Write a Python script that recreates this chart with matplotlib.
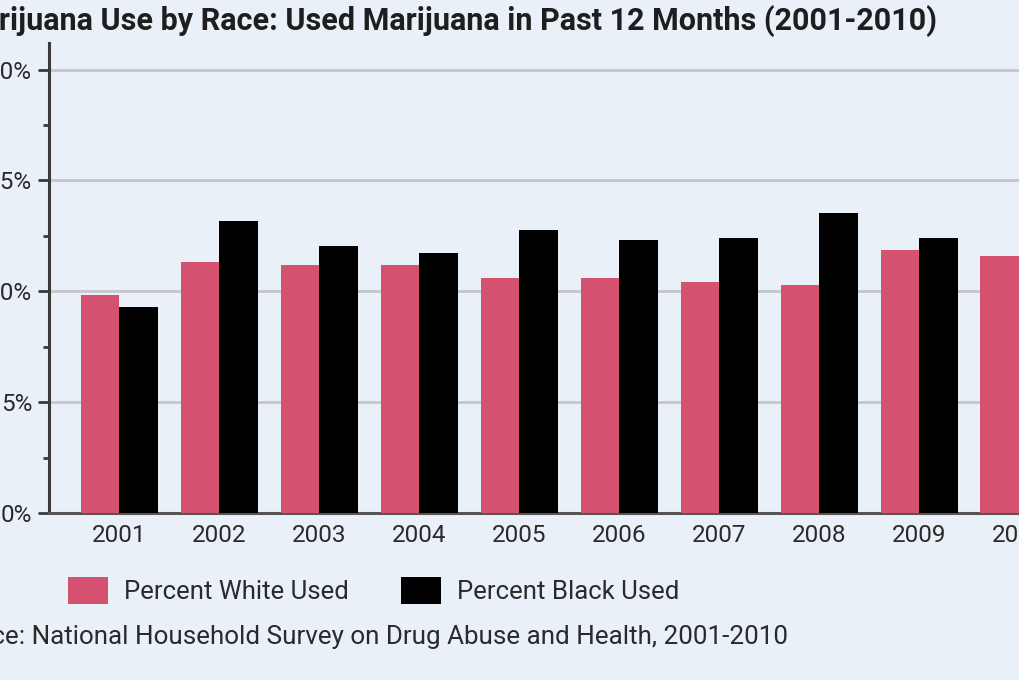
import matplotlib
matplotlib.use('Agg')
import numpy as np
from matplotlib import pyplot as plt
from matplotlib.patches import Patch
from matplotlib.ticker import MultipleLocator, FuncFormatter

years = ['2001', '2002', '2003', '2004', '2005', '2006', '2007', '2008', '2009', '2010']
white_used = [9.85, 11.3, 11.2, 11.2, 10.6, 10.6, 10.4, 10.3, 11.85, 11.6]
black_used = [9.3, 13.15, 12.05, 11.75, 12.75, 12.3, 12.4, 13.55, 12.4, 14.05]

title = 'Marijuana Use by Race: Used Marijuana in Past 12 Months (2001-2010)'
source = 'Source: National Household Survey on Drug Abuse and Health, 2001-2010'

bg = '#eaf0f8'
pink = '#d45170'
plt.rcParams['font.family'] = ['Roboto', 'DejaVu Sans']

fig = plt.figure(figsize=(10.2, 6.8), dpi=100, facecolor=bg)
# axes runs off the right edge, like the cropped original
ax = fig.add_axes([49/1020, 167/680, 1040/1020, 470/680], facecolor=bg)

x = np.arange(len(years))
w = 0.385
ax.bar(x - w/2, white_used, w, color=pink, zorder=3)
ax.bar(x + w/2, black_used, w, color='black', zorder=3)

ax.set_xlim(-0.70, len(years) - 1 + 0.70)
ax.set_ylim(0, 21.2)
ax.yaxis.set_major_locator(MultipleLocator(5))
ax.yaxis.set_minor_locator(MultipleLocator(2.5))
ax.yaxis.set_major_formatter(FuncFormatter(lambda v, p: '%d%%' % v))
ax.set_xticks(x)
ax.set_xticklabels(years)
ax.grid(axis='y', which='major', color='#c4c6c8', linewidth=2, zorder=0)

for s in ['top', 'right']:
    ax.spines[s].set_visible(False)
ax.spines['left'].set_color('#3a3a3a')
ax.spines['left'].set_linewidth(2.2)
ax.spines['bottom'].set_color('#555555')
ax.spines['bottom'].set_linewidth(2.2)
ax.tick_params(axis='y', which='major', length=8, width=2, color='#3a3a3a',
               labelsize=17.5, labelcolor='#2a2a2a', pad=4)
ax.tick_params(axis='y', which='minor', length=4.5, width=2, color='#3a3a3a')
ax.tick_params(axis='x', length=0, labelsize=17.5, labelcolor='#2a2a2a', pad=8)

fig.text(937/1020, 1 - 21/680, title, ha='right', va='center', fontsize=22,
         fontweight='bold', color='#1e1e1e')

handles = [Patch(facecolor=pink, label='Percent White Used'),
           Patch(facecolor='black', label='Percent Black Used')]
fig.legend(handles=handles, loc='upper left', bbox_to_anchor=(55/1020, 1 - 564/680),
           ncol=2, frameon=False, fontsize=18.5, handlelength=1.575, handleheight=1.24,
           handletextpad=0.62, columnspacing=2.0, borderpad=0, labelcolor='#2a2a2a')

fig.text(788/1020, 1 - 637/680, source, ha='right', va='center', fontsize=18.7,
         color='#2a2a2a')

fig.savefig('out.png', dpi=100, facecolor=bg)
